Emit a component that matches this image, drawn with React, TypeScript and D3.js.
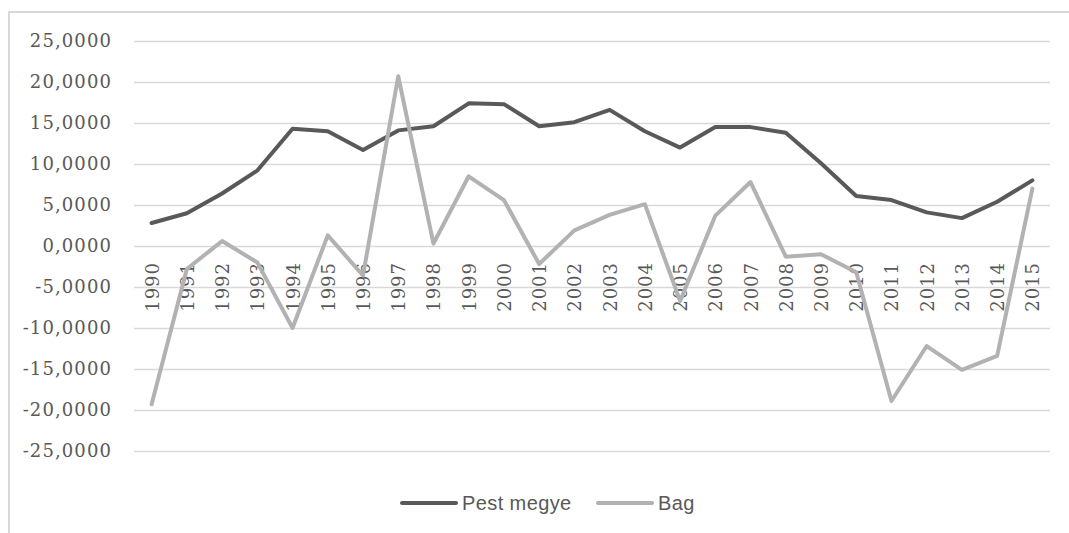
import { useRef, useEffect } from 'react';
import * as d3 from 'd3';

const years = [
  '1990', '1991', '1992', '1993', '1994', '1995', '1996', '1997', '1998', '1999',
  '2000', '2001', '2002', '2003', '2004', '2005', '2006', '2007', '2008', '2009',
  '2010', '2011', '2012', '2013', '2014', '2015',
];

const pestMegye = [
  2.8, 4.0, 6.4, 9.2, 14.3, 14.0, 11.7, 14.1, 14.6, 17.4,
  17.3, 14.6, 15.1, 16.6, 14.0, 12.0, 14.5, 14.5, 13.8, 10.1,
  6.1, 5.6, 4.1, 3.4, 5.4, 8.0,
];

const bag = [
  -19.3, -2.8, 0.6, -2.0, -10.0, 1.3, -3.6, 20.7, 0.3, 8.5,
  5.6, -2.2, 1.9, 3.8, 5.1, -6.7, 3.7, 7.8, -1.3, -1.0,
  -3.2, -18.9, -12.2, -15.1, -13.4, 7.0,
];

const yTicks = [25, 20, 15, 10, 5, 0, -5, -10, -15, -20, -25];

const seriesNames = ['Pest megye', 'Bag'];
const seriesColors = ['#595959', '#b2b2b2'];

const W = 1069;
const H = 533;
const plot = { left: 134, right: 1050, top: 41, bottom: 451 };

// Hungarian style: comma decimal, plain hyphen for minus
const fmt = (v: number) => d3.format('.4f')(v).replace('.', ',').replace('\u2212', '-');

export default function App() {
  const svgRef = useRef<SVGSVGElement>(null);

  useEffect(() => {
    if (!svgRef.current) return;
    const svg = d3.select(svgRef.current);
    svg.selectAll('*').remove();

    const x = d3.scaleBand<string>().domain(years).range([plot.left, plot.right]);
    const y = d3.scaleLinear().domain([-25, 25]).range([plot.bottom, plot.top]);
    const cx = (d: string) => (x(d) ?? 0) + x.bandwidth() / 2;

    // chart frame (cropped on the right and bottom)
    svg
      .append('path')
      .attr('d', `M9,${H + 5} L9,12 L${W + 5},12`)
      .attr('fill', 'none')
      .attr('stroke', '#d9d9d9')
      .attr('stroke-width', 2);

    // gridlines
    svg
      .append('g')
      .selectAll('line')
      .data(yTicks)
      .enter()
      .append('line')
      .attr('x1', plot.left)
      .attr('x2', plot.right)
      .attr('y1', (d) => Math.round(y(d)) + 0.5)
      .attr('y2', (d) => Math.round(y(d)) + 0.5)
      .attr('stroke', '#d9d9d9')
      .attr('stroke-width', 1.3);

    // y labels
    svg
      .append('g')
      .selectAll('text')
      .data(yTicks)
      .enter()
      .append('text')
      .attr('x', 112)
      .attr('y', (d) => y(d))
      .attr('dy', '0.36em')
      .attr('text-anchor', 'end')
      .attr('fill', '#595959')
      .attr('font-family', 'DejaVu Serif')
      .attr('font-size', 18)
      .attr('letter-spacing', 1.1)
      .text((d) => fmt(d));

    // x labels, rotated
    svg
      .append('g')
      .selectAll('text')
      .data(years)
      .enter()
      .append('text')
      .attr('transform', (d) => `translate(${cx(d) + 7},${y(0) + 16}) rotate(-90)`)
      .attr('text-anchor', 'end')
      .attr('fill', '#595959')
      .attr('font-family', 'DejaVu Serif')
      .attr('font-size', 18)
      .attr('letter-spacing', 1)
      .text((d) => d);

    const line = d3
      .line<number>()
      .x((_, i) => cx(years[i]))
      .y((d) => y(d));

    [pestMegye, bag].forEach((vals, i) => {
      svg
        .append('path')
        .datum(vals)
        .attr('d', line)
        .attr('fill', 'none')
        .attr('stroke', seriesColors[i])
        .attr('stroke-width', 4)
        .attr('stroke-linejoin', 'round')
        .attr('stroke-linecap', 'round');
    });

    // legend
    const legendX = [402, 598];
    const legendY = 503;
    seriesNames.forEach((name, i) => {
      const g = svg.append('g');
      g.append('line')
        .attr('x1', legendX[i])
        .attr('x2', legendX[i] + 54)
        .attr('y1', legendY)
        .attr('y2', legendY)
        .attr('stroke', seriesColors[i])
        .attr('stroke-width', 4)
        .attr('stroke-linecap', 'round');
      g.append('text')
        .attr('x', legendX[i] + 60)
        .attr('y', legendY)
        .attr('dy', '0.36em')
        .attr('fill', '#595959')
        .attr('font-family', 'Liberation Sans')
        .attr('font-size', 20)
        .attr('letter-spacing', 0.4)
        .text(name);
    });
  }, []);

  return (
    <div style={{ position: 'absolute', left: 0, top: 0 }}>
      <svg ref={svgRef} width={W} height={H} style={{ display: 'block', background: '#fff' }} />
    </div>
  );
}
